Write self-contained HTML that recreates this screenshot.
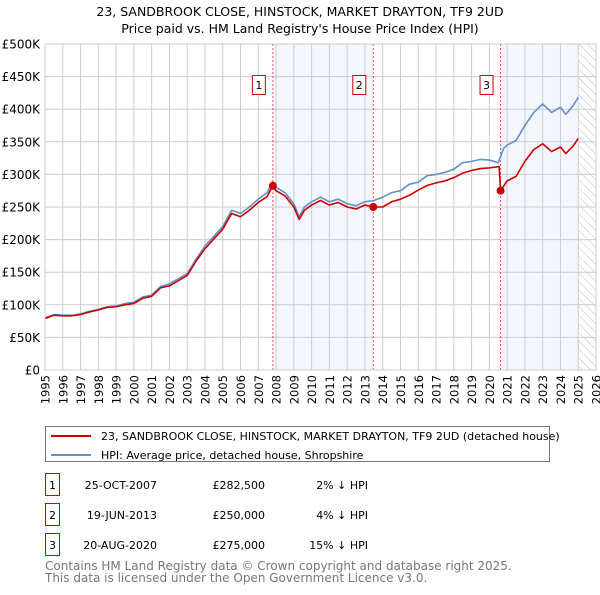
<!DOCTYPE html>
<html><head><meta charset="utf-8"><style>
body{margin:0;background:#fff;font-family:"Liberation Sans","DejaVu Sans",sans-serif;}
svg text{font-family:"DejaVu Sans","Liberation Sans",sans-serif;}
</style></head><body>
<svg width="600" height="590" xmlns="http://www.w3.org/2000/svg">
<defs><pattern id="hatch" width="6" height="6" patternUnits="userSpaceOnUse" patternTransform="rotate(-45)"><line x1="0" y1="0" x2="0" y2="6" stroke="#bbb" stroke-width="1"/></pattern></defs>
<text x="300" y="16" text-anchor="middle" font-size="12.5" fill="#000">23, SANDBROOK CLOSE, HINSTOCK, MARKET DRAYTON, TF9 2UD</text>
<text x="300" y="33" text-anchor="middle" font-size="12.5" fill="#000">Price paid vs. HM Land Registry's House Price Index (HPI)</text>
<g id="plot"></g>
<g>
<rect x="45.5" y="426.5" width="504" height="35" fill="#fff" stroke="#777"/>
<line x1="51" y1="436" x2="91" y2="436" stroke="#cc0000" stroke-width="2"/>
<text x="101" y="440" font-size="11">23, SANDBROOK CLOSE, HINSTOCK, MARKET DRAYTON, TF9 2UD (detached house)</text>
<line x1="51" y1="455" x2="91" y2="455" stroke="#6090d0" stroke-width="2"/>
<text x="101" y="459" font-size="11">HPI: Average price, detached house, Shropshire</text>
</g>
<g id="table" font-size="11"></g>
<text x="45" y="570" font-size="12" fill="#777">Contains HM Land Registry data © Crown copyright and database right 2025.</text>
<text x="45" y="582" font-size="12" fill="#777">This data is licensed under the Open Government Licence v3.0.</text>
</svg>
<script>
const hpiYears=[1995,1995.5,1996,1996.5,1997,1997.5,1998,1998.5,1999,1999.5,2000,2000.5,2001,2001.5,2002,2002.5,2003,2003.5,2004,2004.5,2005,2005.5,2006,2006.5,2007,2007.5,2007.8,2008,2008.5,2009,2009.3,2009.6,2010,2010.5,2011,2011.5,2012,2012.5,2013,2013.5,2014,2014.5,2015,2015.5,2016,2016.5,2017,2017.5,2018,2018.5,2019,2019.5,2020,2020.5,2020.8,2021,2021.5,2022,2022.5,2023,2023.5,2024,2024.3,2024.7,2025];
const hpiValues=[80,85,84,84,86,90,93,97,98,102,104,112,115,128,132,140,148,170,190,205,220,245,240,250,262,272,288,280,272,255,235,250,258,265,258,262,255,252,258,260,265,272,275,285,288,298,300,303,308,318,320,323,322,318,340,345,352,375,395,408,395,403,392,405,418];
const redYears=[1995,1995.5,1996,1996.5,1997,1997.5,1998,1998.5,1999,1999.5,2000,2000.5,2001,2001.5,2002,2002.5,2003,2003.5,2004,2004.5,2005,2005.5,2006,2006.5,2007,2007.5,2007.8,2008,2008.5,2009,2009.3,2009.6,2010,2010.5,2011,2011.5,2012,2012.5,2013,2013.5,2014,2014.5,2015,2015.5,2016,2016.5,2017,2017.5,2018,2018.5,2019,2019.5,2020,2020.55,2020.63,2021,2021.5,2022,2022.5,2023,2023.5,2024,2024.3,2024.7,2025];
const redValues=[79,84,83,83,85,89,92,96,97,100,102,110,113,126,129,137,145,167,186,201,216,240,235,245,257,266,282,275,267,250,231,245,253,260,253,257,250,247,253,250,250,258,262,268,276,283,287,290,295,302,306,309,310,312,275,290,297,320,338,347,335,342,332,343,355];
const saleYears=[2007.82,2013.47,2020.63];
const saleValues=[282.5,250,275];
const saleDates=["25-OCT-2007","19-JUN-2013","20-AUG-2020"];
const salePrices=["£282,500","£250,000","£275,000"];
const salePct=["2% ↓ HPI","4% ↓ HPI","15% ↓ HPI"];
const yTicks=[0,50,100,150,200,250,300,350,400,450,500];
const yTickLabels=["£0","£50K","£100K","£150K","£200K","£250K","£300K","£350K","£400K","£450K","£500K"];
const xTicks=[];for(let y=1995;y<=2026;y++)xTicks.push(y);

const NS="http://www.w3.org/2000/svg";
const X0=45,X1=596,Y0=370,Y1=44;
const xs=v=>X0+(v-1995)/(2026-1995)*(X1-X0);
const ys=v=>Y0-v/500*(Y0-Y1);
const plot=document.getElementById('plot');
function mk(tag,attrs,parent){const e=document.createElementNS(NS,tag);for(const k in attrs)e.setAttribute(k,attrs[k]);(parent||plot).appendChild(e);return e;}
for(let i=0;i<saleYears.length;i++){
  const end=i<saleYears.length-1?saleYears[i+1]:2025;
  if(i===1) continue;
  const r=mk('rect',{x:xs(saleYears[i]),y:Y1,width:xs(end)-xs(saleYears[i]),height:Y0-Y1,fill:'#eef3fc',opacity:0.7});
  
  
}
const h=mk('rect',{x:xs(2025),y:Y1,width:X1-xs(2025),height:Y0-Y1,fill:'url(#hatch)'});


yTicks.forEach((t,i)=>{
  const l=mk('line',{x1:X0,x2:X1,y1:ys(t),y2:ys(t),stroke:'#ccc','stroke-width':1});
  
  
  const tx=mk('text',{x:40,y:ys(t)+4.5,'text-anchor':'end','font-size':12});
  tx.textContent=yTickLabels[i];
  
  
});
xTicks.forEach(t=>{
  const l=mk('line',{x1:xs(t),x2:xs(t),y1:Y1,y2:Y0,stroke:'#ccc','stroke-width':1});
  
  
  const px=xs(t)+4.5,py=375;
  const tx=mk('text',{x:px,y:py,'text-anchor':'end','font-size':11.5,transform:'rotate(-90 '+px+' '+py+')'});
  tx.textContent=t;
  
  
});
saleYears.forEach((s,i)=>{
  const l=mk('line',{x1:xs(s),x2:xs(s),y1:Y1,y2:Y0,stroke:'#e05050','stroke-width':1,'stroke-dasharray':'2,2'});
  
  
  const b=mk('rect',{x:xs(s)-20.5,y:75.5,width:13,height:19,fill:'#fff',stroke:'#cc0000'});
  
  
  const t=mk('text',{x:xs(s)-14,y:89,'text-anchor':'middle','font-size':11});
  t.textContent=String(i+1);
  
  
});
function line(years,vals,color,name){
  const p=mk('polyline',{points:years.map((y,i)=>xs(y)+','+ys(vals[i])).join(' '),fill:'none',stroke:color,'stroke-width':1.6,'stroke-linejoin':'round'});
  
  
}
line(hpiYears,hpiValues,'#6090d0','hpi-line');
line(redYears,redValues,'#cc0000','property-line');
saleYears.forEach((s,i)=>{
  const c=mk('circle',{cx:xs(s),cy:ys(saleValues[i]),r:4,fill:'#cc0000'});
  
  
});
const f=mk('rect',{x:X0,y:Y1,width:X1-X0,height:Y0-Y1,fill:'none',stroke:'#ccc'});


const tb=document.getElementById('table');
saleDates.forEach((d,i)=>{
  const y=487+i*30;
  const b=mk('rect',{x:45.5,y:y-13.5,width:14,height:22,fill:'#fff',stroke:'#cc0000'},tb);
  
  
  const cells=[[52.5,String(i+1),'middle'],[157,d,'end'],[265,salePrices[i],'end'],[368,salePct[i],'end']];
  const names=['table-row-number','sale-date','sale-price','hpi-difference'];
  cells.forEach((c,j)=>{
    const t=mk('text',{x:c[0],y:y+2,'text-anchor':c[2],'font-size':11},tb);
    t.textContent=c[1];
    
    
  });
});
</script>
</body></html>
